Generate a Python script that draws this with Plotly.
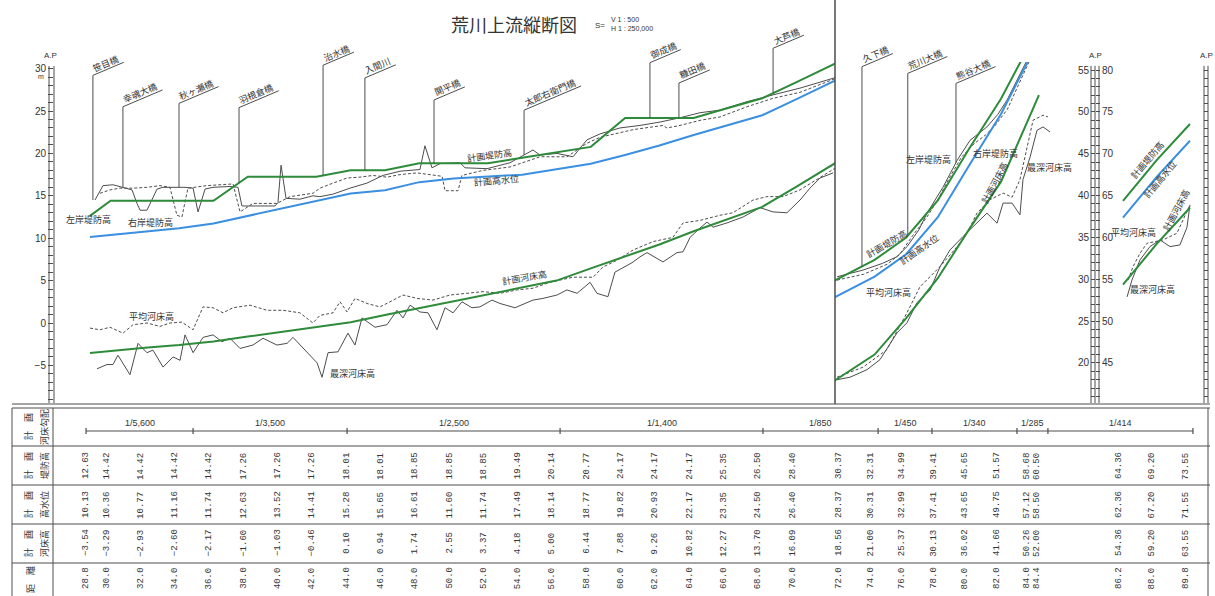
import math
import plotly.graph_objects as go

W, H = 1215, 596

# ---------------------------------------------------------------------------
# Table: distance from the river mouth (km) and design values
# ---------------------------------------------------------------------------
dist_km = [28.8, 30.0, 32.0, 34.0, 36.0, 38.0, 40.0, 42.0, 44.0, 46.0, 48.0,
           50.0, 52.0, 54.0, 56.0, 58.0, 60.0, 62.0, 64.0, 66.0, 68.0, 70.0,
           72.0, 74.0, 76.0, 78.0, 80.0, 82.0, 84.0, 84.4, 86.2, 88.0, 89.8]
levee_plan = [12.63, 14.42, 14.42, 14.42, 14.42, 17.26, 17.26, 17.26, 18.01, 18.01, 18.85,
              18.85, 18.85, 19.49, 20.14, 20.77, 24.17, 24.17, 24.17, 25.35, 26.50, 28.40,
              30.37, 32.31, 34.99, 39.41, 45.65, 51.57, 58.68, 60.50, 64.36, 69.20, 73.55]
hwl_table = [10.13, 10.36, 10.77, 11.16, 11.74, 12.63, 13.52, 14.41, 15.28, 15.65, 16.61,
             11.60, 11.74, 17.49, 18.14, 18.77, 19.82, 20.93, 22.17, 23.35, 24.50, 26.40,
             28.37, 30.31, 32.99, 37.41, 43.65, 49.75, 57.12, 58.50, 62.36, 67.20, 71.55]
bed_plan = [-3.54, -3.29, -2.93, -2.60, -2.17, -1.60, -1.03, -0.46, 0.10, 0.94, 1.74,
            2.55, 3.37, 4.18, 5.00, 6.44, 7.88, 9.26, 10.82, 12.27, 13.70, 16.09,
            18.56, 21.00, 25.37, 30.13, 36.02, 41.66, 50.26, 52.00, 54.36, 59.20, 63.55]
# design high-water level as drawn on the profile
hwl_line = [10.13, 10.36, 10.77, 11.16, 11.74, 12.63, 13.52, 14.41, 15.28, 15.65, 16.61,
            17.05, 17.30, 17.49, 18.14, 18.77, 19.82, 20.93, 22.17, 23.35, 24.50, 26.40,
            28.37, 30.31, 32.99, 37.41, 43.65, 49.75, 57.12, 58.50, 62.36, 67.20, 71.55]

grade_breaks_km = [28.57, 34.81, 43.79, 56.21, 68.04, 74.22, 77.63, 83.01, 84.97, 89.96]
grade_labels = ["1/5,600", "1/3,500", "1/2,500", "1/1,400", "1/850",
                "1/450", "1/340", "1/285", "1/414"]

# ---------------------------------------------------------------------------
# Surveyed profiles, lower reach (28.8 - 72 km)
# ---------------------------------------------------------------------------
lb_low_km = [29.09, 29.56, 30.14, 30.84, 31.25, 31.54, 31.72, 32.12, 32.42, 32.71,
             33.06, 34.34, 34.81, 35.10, 35.51, 35.97, 36.96, 37.43, 37.66, 39.59,
             39.76, 39.94, 40.23, 41.04, 41.80, 42.21, 42.97, 43.96, 44.95, 45.88,
             46.88, 48.04, 48.33, 48.74, 49.21, 50.37, 50.67, 51.95, 53.29, 54.63,
             55.04, 56.03, 56.96, 57.78, 58.54, 59.70, 60.87, 62.04, 63.20, 64.37,
             65.53, 67.11, 68.63, 70.20, 71.37, 72.36]
lb_low = [14.5, 16.2, 16.3, 15.9, 15.7, 14.1, 13.3, 13.3, 14.6, 15.8,
          16.0, 16.0, 15.9, 13.1, 15.8, 16.0, 16.1, 16.0, 13.8, 13.8,
          14.2, 18.6, 14.7, 14.6, 15.0, 14.9, 15.2, 15.9, 16.5, 17.4,
          17.9, 18.1, 20.9, 18.3, 18.8, 18.9, 18.3, 18.2, 18.9, 20.4,
          19.8, 20.0, 19.6, 21.6, 22.3, 23.0, 23.3, 23.7, 24.2, 24.8,
          25.1, 26.1, 26.9, 27.7, 28.4, 29.0]

rb_low_km = [29.38, 29.97, 30.55, 31.31, 32.12, 32.88, 33.46, 33.87, 34.16, 34.51,
             35.62, 36.79, 37.14, 37.55, 38.30, 39.70, 40.46, 41.80, 42.21, 42.97,
             43.79, 44.54, 45.30, 46.12, 46.88, 47.87, 49.33, 49.50, 50.26, 50.49,
             51.72, 53.29, 55.04, 56.61, 57.78, 58.54, 60.46, 62.21, 62.44, 63.20,
             64.37, 65.53, 67.11, 68.63, 70.20, 72.36]
rb_low = [15.3, 15.7, 15.9, 15.9, 16.0, 16.2, 16.0, 12.7, 12.5, 15.9,
          16.2, 16.3, 16.4, 13.1, 14.1, 14.1, 14.9, 15.3, 15.9, 16.5,
          17.1, 17.2, 17.4, 17.2, 17.5, 17.7, 17.3, 15.6, 15.6, 17.4,
          18.0, 18.4, 19.6, 19.6, 21.2, 21.9, 22.8, 23.3, 23.0, 23.3,
          23.9, 24.3, 25.5, 26.5, 27.2, 28.9]

avg_low_km = [28.80, 29.38, 29.97, 30.72, 31.31, 32.12, 32.88, 33.46, 34.16, 34.81,
              35.39, 35.97, 36.56, 37.14, 38.13, 39.12, 40.05, 41.04, 41.80, 42.21,
              42.97, 43.38, 43.79, 44.25, 44.95, 45.71, 46.29, 47.05, 47.87, 48.80,
              49.79, 50.78, 51.72, 52.71, 53.70, 54.63, 55.62, 56.96, 58.13, 58.71,
              59.53, 60.46, 61.63, 62.79, 63.38, 64.37, 65.53, 66.29, 67.46, 68.27,
              69.21, 70.20, 71.19, 72.36]
avg_low = [-0.6, -0.8, -0.5, -1.2, -0.2, 0.0, -0.4, 0.0, 0.1, -0.8,
           1.9, 1.8, 1.2, 1.8, 2.1, 1.5, 1.5, 1.2, 0.0, 0.9,
           1.2, 2.5, 1.3, 2.9, 2.3, 1.9, 2.5, 3.3, 2.9, 2.7,
           3.3, 3.5, 3.7, 3.5, 3.9, 4.1, 4.8, 5.4, 5.4, 6.6,
           7.4, 8.6, 9.6, 10.1, 11.8, 12.1, 12.7, 13.0, 14.5, 14.9,
           14.9, 15.7, 16.9, 18.4]

deep_low_km = [29.21, 29.79, 30.14, 30.43, 31.13, 31.60, 32.12, 32.47, 33.06, 33.64,
               34.05, 34.34, 34.81, 35.39, 35.97, 36.50, 36.96, 37.55, 38.30, 38.89,
               39.70, 40.29, 40.64, 41.45, 42.04, 42.33, 42.68, 43.26, 43.84, 44.25,
               44.66, 45.42, 46.12, 46.70, 47.05, 47.46, 48.04, 48.51, 49.03, 49.50,
               49.97, 50.49, 51.07, 51.54, 52.24, 52.71, 53.58, 54.63, 55.21, 56.03,
               56.61, 57.20, 57.96, 58.36, 59.00, 59.41, 59.88, 60.40, 60.87, 61.28,
               62.21, 63.03, 63.38, 63.79, 64.37, 64.78, 65.13, 65.94, 66.88, 67.87,
               68.63, 69.44, 70.20, 70.78, 71.37, 72.13]
deep_low = [-5.4, -4.9, -4.9, -3.8, -6.1, -2.4, -3.5, -3.2, -5.2, -4.0,
            -4.4, -1.4, -3.5, -1.7, -1.4, -2.2, -1.8, -3.0, -2.6, -1.8,
            -2.6, -2.4, -1.7, -3.5, -4.7, -6.4, -3.5, -3.4, -1.2, -2.6,
            0.6, -0.5, -0.2, 1.5, 0.6, 2.1, 1.3, 1.2, -0.8, 1.8,
            1.2, 2.5, 1.8, 1.9, 2.7, 2.3, 1.8, 2.7, 2.9, 3.3,
            3.9, 3.5, 4.8, 3.5, 3.1, 6.0, 6.5, 7.1, 7.8, 8.3,
            7.2, 8.3, 8.4, 10.1, 11.2, 11.9, 11.3, 11.8, 12.5, 13.6,
            13.1, 13.0, 14.5, 15.9, 17.1, 17.7]

# ---------------------------------------------------------------------------
# Surveyed profiles, middle reach (72 - 85 km)
# ---------------------------------------------------------------------------
lb_mid_km = [71.62, 73.27, 74.5, 75.42, 76.05, 76.8, 77.32, 78.33, 79.22, 80.04,
             81.11, 81.8, 82.38, 83.2, 83.6]
lb_mid = [30.3, 31.1, 31.9, 32.7, 33.9, 35.9, 37.9, 41.0, 44.2, 46.6,
          48.2, 49.7, 51.4, 54.6, 56.0]
rb_mid_km = [71.62, 73.3, 74.8, 75.6, 76.4, 77.3, 78.0, 78.7, 79.5, 80.3,
             81.0, 81.6, 82.4, 83.0, 83.5, 83.9]
rb_mid = [29.9, 30.6, 31.8, 33.0, 35.2, 37.4, 39.5, 42.0, 44.6, 46.2,
          47.2, 48.3, 50.3, 52.8, 55.0, 56.5]
avg_mid_km = [71.62, 73.27, 74.78, 76.05, 76.87, 78.14, 79.22, 79.85, 80.48, 81.30,
              82.13, 82.70, 83.20, 83.65, 84.03, 84.66, 84.97]
avg_mid = [18.3, 19.5, 21.6, 26.0, 29.1, 31.5, 33.9, 35.5, 37.9, 39.5,
           40.3, 39.8, 41.9, 45.8, 49.0, 49.6, 49.4]
deep_mid_km = [71.62, 72.44, 73.52, 74.34, 75.42, 76.05, 76.68, 77.51, 78.14, 78.77,
               79.59, 80.35, 81.11, 81.75, 82.13, 82.70, 83.20, 83.39, 83.84, 84.28,
               84.66, 85.10]
deep_mid = [18.0, 18.3, 19.2, 20.4, 23.6, 24.8, 27.2, 28.7, 31.5, 33.5,
            35.1, 36.5, 37.9, 36.7, 39.1, 39.1, 37.7, 41.9, 44.6, 47.8,
            48.2, 47.6]

# ---------------------------------------------------------------------------
# Surveyed profiles, upper reach (86 - 90 km)
# ---------------------------------------------------------------------------
avg_far_km = [86.47, 86.74, 87.11, 87.49, 88.35, 89.10, 89.80]
avg_far = [54.9, 56.5, 58.1, 59.3, 59.7, 60.5, 63.9]
deep_far_km = [86.42, 86.68, 87.11, 87.65, 88.19, 88.73, 89.26, 89.64, 89.80]
deep_far = [52.9, 54.9, 57.3, 58.9, 59.7, 58.9, 59.1, 61.2, 63.9]

# bridges and confluences along the river
bridge_low_names = ["笹目橋", "幸魂大橋", "秋ヶ瀬橋", "羽根倉橋", "治水橋", "入間川",
                    "開平橋", "太郎右衛門橋", "御成橋", "糠田橋", "大芦橋"]
bridge_low_km = [28.97, 30.72, 33.99, 37.49, 42.39, 44.83, 48.86, 54.11, 61.45, 63.14, 68.63]
bridge_mid_names = ["久下橋", "荒川大橋", "熊谷大橋"]
bridge_mid_km = [73.2, 76.1, 79.15]

# ---------------------------------------------------------------------------
# Styling and geometry
# ---------------------------------------------------------------------------
GREEN = "#2e8b3a"
BLUE = "#3b8fe0"
INK = "#4d4d4d"
TXT = "#333333"
JP = "Noto Sans CJK JP"
NUM = "Liberation Mono"
SANS = "Liberation Sans"
DASH = "3px,2px"

leader_top_low = [29.2, 25.5, 25.9, 25.4, 30.4, 28.9, 26.3, 25.1, 30.7, 28.3, 32.4]
leader_top_mid = [55.4, 54.6, 53.4]


def fx(px):
    return px / W


def fy(py):
    return 1 - py / H


# pixel <-> data scales of the three panels
def km_low(px): return 28.8 + (px - 90) / 17.15
def km_mid(px): return 72.0 + (px - 843) / 15.8
def km_far(px): return 86.2 + (px - 1123) / 18.6
def el_low(py): return (323 - py) / 8.48
def el_mid(py): return 55.0 - (py - 70) / 8.371
def el_far(py): return 80.0 - (py - 70) / 8.371


PX_OF = {"x": lambda k: 90 + (k - 28.8) * 17.15,
         "x2": lambda k: 843 + (k - 72.0) * 15.8,
         "x3": lambda k: 1123 + (k - 86.2) * 18.6}

LX, MX, FXd = (54, 835), (835, 1100), (1100, 1215)
LY, MY, FYd = (28, 403), (62, 403), (28, 403)

xr = {"x": [km_low(LX[0]), km_low(LX[1])],
      "x2": [km_mid(MX[0]), km_mid(MX[1])],
      "x3": [km_far(FXd[0]), km_far(FXd[1])]}
yr = {"y": [el_low(LY[1]), el_low(LY[0])],
      "y2": [el_mid(MY[1]), el_mid(MY[0])],
      "y3": [el_far(FYd[1]), el_far(FYd[0])]}

fig = go.Figure()


def add_line(x, y, xa, ya, color, width, dash="solid"):
    fig.add_trace(go.Scatter(x=x, y=y, xaxis=xa, yaxis=ya, mode="lines",
                             line=dict(color=color, width=width, dash=dash),
                             hoverinfo="skip", showlegend=False))


def pick(xs, ys, lo, hi):
    pts = [(a, b) for a, b in zip(xs, ys) if lo <= a <= hi]
    return [p[0] for p in pts], [p[1] for p in pts]


def interp(x, xs, ys):
    if x <= xs[0]:
        return ys[0]
    for i in range(1, len(xs)):
        if x <= xs[i]:
            t = (x - xs[i - 1]) / (xs[i] - xs[i - 1])
            return ys[i - 1] + t * (ys[i] - ys[i - 1])
    return ys[-1]


# surveyed lines
add_line(lb_low_km, lb_low, "x", "y", INK, 1)
add_line(rb_low_km, rb_low, "x", "y", INK, 1, DASH)
add_line(avg_low_km, avg_low, "x", "y", INK, 1, DASH)
add_line(deep_low_km, deep_low, "x", "y", INK, 1)
add_line(lb_mid_km, lb_mid, "x2", "y2", INK, 1)
add_line(rb_mid_km, rb_mid, "x2", "y2", INK, 1, DASH)
add_line(avg_mid_km, avg_mid, "x2", "y2", INK, 1, DASH)
add_line(deep_mid_km, deep_mid, "x2", "y2", INK, 1)
add_line(avg_far_km, avg_far, "x3", "y3", INK, 1, DASH)
add_line(deep_far_km, deep_far, "x3", "y3", INK, 1)

# design lines (water level, levee crown, river bed) per panel
spans = [("x", "y", 0, 74), ("x2", "y2", 70, 84.4), ("x3", "y3", 86, 90)]
for xa, ya, lo, hi in spans:
    add_line(*pick(dist_km, hwl_line, lo, hi), xa, ya, BLUE, 2)
    add_line(*pick(dist_km, levee_plan, lo, hi), xa, ya, GREEN, 2)
    add_line(*pick(dist_km, bed_plan, lo, hi), xa, ya, GREEN, 2)

# keeps the far-right ruler axis alive
fig.add_trace(go.Scatter(x=[None], y=[None], xaxis="x3", yaxis="y4", mode="lines",
                         hoverinfo="skip", showlegend=False))

shapes = []
annotations = []


def pline(x0, y0, x1, y1, width=1, color=INK):
    shapes.append(dict(type="line", xref="paper", yref="paper",
                       x0=fx(x0), y0=fy(y0), x1=fx(x1), y1=fy(y1),
                       line=dict(color=color, width=width)))


def note(text, x, y, xref="paper", yref="paper", size=9, angle=0, family=JP,
         xanchor="center", yanchor="middle", xshift=0, yshift=0, color=TXT):
    annotations.append(dict(text=text, x=x, y=y, xref=xref, yref=yref,
                            showarrow=False, textangle=angle,
                            xanchor=xanchor, yanchor=yanchor,
                            xshift=xshift, yshift=yshift,
                            font=dict(family=family, size=size, color=color)))


# ---- bridge leaders and slanted labels ----
ANG = math.radians(23)


def bridge(name, km, top, xa, ya, lb_km, lb_el):
    base = max(interp(km, dist_km, levee_plan), interp(km, lb_km, lb_el))
    shapes.append(dict(type="line", xref=xa, yref=ya, x0=km, x1=km, y0=base, y1=top,
                       line=dict(color=INK, width=1)))
    L = 9.5 * len(name) + 5
    rng = yr[ya]
    frac = (top - rng[0]) / (rng[1] - rng[0])
    shapes.append(dict(type="line", xref=xa, yref=ya + " domain",
                       xsizemode="pixel", xanchor=km, x0=0, x1=L * math.cos(ANG),
                       ysizemode="pixel", yanchor=frac, y0=0, y1=L * math.sin(ANG),
                       line=dict(color=INK, width=1)))
    note(name, km, top, xref=xa, yref=ya, size=9, angle=-23,
         xshift=L / 2 * math.cos(ANG) - 6 * math.sin(ANG),
         yshift=L / 2 * math.sin(ANG) + 6 * math.cos(ANG))


for n, k, t in zip(bridge_low_names, bridge_low_km, leader_top_low):
    bridge(n, k, t, "x", "y", lb_low_km, lb_low)
for n, k, t in zip(bridge_mid_names, bridge_mid_km, leader_top_mid):
    bridge(n, k, t, "x2", "y2", lb_mid_km, lb_mid)

# ---- line labels ----
line_labels = [
    ("左岸堤防高", "x", "y", 28.74, 12.15, 0),
    ("右岸堤防高", "x", "y", 32.30, 11.91, 0),
    ("計画堤防高", "x", "y", 52.07, 19.81, -8),
    ("計画高水位", "x", "y", 52.53, 16.75, -5),
    ("計画河床高", "x", "y", 54.16, 5.42, -10),
    ("平均河床高", "x", "y", 32.36, 0.71, 0),
    ("最深河床高", "x", "y", 44.08, -5.9, 0),
    ("左岸堤防高", "x2", "y2", 77.38, 44.25, 0),
    ("右岸堤防高", "x2", "y2", 81.62, 45.08, 0),
    ("計画堤防高", "x2", "y2", 74.78, 34.33, -30),
    ("計画高水位", "x2", "y2", 76.81, 33.5, -35),
    ("計画河床高", "x2", "y2", 81.56, 41.5, -62),
    ("最深河床高", "x2", "y2", 85.1, 43.4, 0),
    ("平均河床高", "x2", "y2", 74.85, 28.48, 0),
    ("計画堤防高", "x3", "y3", 87.54, 69.25, -50),
    ("計画高水位", "x3", "y3", 88.19, 66.86, -50),
    ("計画河床高", "x3", "y3", 89.1, 63.28, -62),
    ("平均河床高", "x3", "y3", 86.74, 60.53, 0),
    ("最深河床高", "x3", "y3", 87.81, 53.72, 0),
]
for text, xa, ya, x, y, ang in line_labels:
    note(text, x, y, xref=xa, yref=ya, size=9, angle=ang)

# ---- title ----
note("荒川上流縦断図", fx(514), fy(24), size=18)
note("S=", fx(600), fy(26), size=8, family=SANS)
note("V 1 : 500", fx(609), fy(20), size=7, family=SANS, xanchor="left")
note("H 1 : 250,000", fx(609), fy(29), size=7, family=SANS, xanchor="left")

# ---- rulers ----
note("A.P", fx(50), fy(55), size=8, family=SANS)
note("m", fx(41), fy(76), size=7, family=SANS)
note("A.P", fx(1095), fy(56), size=8, family=SANS)
note("A.P", fx(1206), fy(56), size=8, family=SANS)

for px in (49, 54):
    shapes.append(dict(type="line", xref="paper", yref="y", x0=fx(px), x1=fx(px),
                       y0=yr["y"][0], y1=30.3, line=dict(color=INK, width=1)))
for px in (1091, 1095, 1099):
    shapes.append(dict(type="line", xref="paper", yref="y2", x0=fx(px), x1=fx(px),
                       y0=yr["y2"][0], y1=55.5, line=dict(color=INK, width=1)))
for px in (1204, 1208):
    shapes.append(dict(type="line", xref="paper", yref="y3", x0=fx(px), x1=fx(px),
                       y0=yr["y3"][0], y1=80.5, line=dict(color=INK, width=1)))

# panel divider
pline(835, 0, 835, 404, width=1.5)

# ---- table frame ----
pline(12, 404, 1210, 404, width=1.2)
pline(12, 408, 1210, 408, width=1.2)
for py in (446, 485, 524, 563):
    pline(12, py, 1210, py)
pline(12, 408, 12, 596)
pline(53, 408, 53, 596)
pline(1208, 408, 1208, 596)

ROW_Y = {"grade": 423, "levee": 466, "hwl": 505, "bed": 543, "dist": 578}
headers = [("計　画", "河床勾配", 427), ("計　画", "堤防高", 466),
           ("計　画", "高水位", 505), ("計　画", "河床高", 544)]
for a, b, y in headers:
    note(a, fx(28), fy(y), size=9, angle=-90)
    note(b, fx(44), fy(y), size=9, angle=-90)
note("距　離", fx(30), fy(580), size=9, angle=-90)


def table_ref(km):
    """Panel whose horizontal scale carries a table column at this distance."""
    if km <= 71:
        return "x"
    if km <= 85.5:
        return "x2"
    return "x3"


def ref_at_px(px):
    if px < 835:
        return "x", km_low(px)
    if px < 1100:
        return "x2", km_mid(px)
    return "x3", km_far(px)


def fmt(v):
    return f"{v:.2f}".replace("-", "−")


for i, km in enumerate(dist_km):
    ref = table_ref(km)
    sh = -4 + (-2 if km == 84.0 else 2 if km == 84.4 else 0)
    for row, vals in (("levee", levee_plan), ("hwl", hwl_table), ("bed", bed_plan)):
        note(fmt(vals[i]), km, fy(ROW_Y[row]), xref=ref, size=9, angle=-90,
             family=NUM, xshift=sh)
    note(f"{km:.1f}", km, fy(ROW_Y["dist"]), xref=ref, size=9, angle=-90,
         family=NUM, xshift=sh)

# gradient row: continuous rule, break ticks and slope labels
GY = 431
shapes.append(dict(type="line", xref="x", yref="paper", x0=grade_breaks_km[0], x1=xr["x"][1],
                   y0=fy(GY), y1=fy(GY), line=dict(color=INK, width=1)))
shapes.append(dict(type="line", xref="x2", yref="paper", x0=xr["x2"][0], x1=xr["x2"][1],
                   y0=fy(GY), y1=fy(GY), line=dict(color=INK, width=1)))
shapes.append(dict(type="line", xref="x3", yref="paper", x0=xr["x3"][0], x1=grade_breaks_km[-1],
                   y0=fy(GY), y1=fy(GY), line=dict(color=INK, width=1)))
for km in grade_breaks_km:
    shapes.append(dict(type="line", xref=table_ref(km), yref="paper", x0=km, x1=km,
                       y0=fy(GY - 3), y1=fy(GY + 3), line=dict(color=INK, width=1.2)))
for lab, a, b in zip(grade_labels, grade_breaks_km[:-1], grade_breaks_km[1:]):
    pm = (PX_OF[table_ref(a)](a) + PX_OF[table_ref(b)](b)) / 2
    ref, kmm = ref_at_px(pm)
    note(lab, kmm, fy(ROW_Y["grade"]), xref=ref, size=9, family=SANS)

# ---- axes ----
ruler = dict(showgrid=False, zeroline=False, showline=False, ticks="outside",
             tickwidth=1, tickcolor=INK, fixedrange=True,
             tickfont=dict(family=SANS, size=10, color=TXT))


def tick_set(lo, hi):
    vals = list(range(lo, hi + 1))
    return vals, [(str(v).replace("-", "−") if v % 5 == 0 else "") for v in vals]


tv1, tt1 = tick_set(-9, 30)
tv2, tt2 = tick_set(16, 55)
tv3, tt3 = tick_set(41, 80)

fig.update_layout(
    width=W, height=H, margin=dict(l=0, r=0, t=0, b=0), autosize=False,
    paper_bgcolor="white", plot_bgcolor="white", showlegend=False,
    xaxis=dict(domain=[fx(LX[0]), fx(LX[1])], range=xr["x"], visible=False, anchor="y", fixedrange=True),
    xaxis2=dict(domain=[fx(MX[0]), fx(MX[1])], range=xr["x2"], visible=False, anchor="y2", fixedrange=True),
    xaxis3=dict(domain=[fx(FXd[0]), fx(FXd[1])], range=xr["x3"], visible=False, anchor="y3", fixedrange=True),
    yaxis=dict(domain=[fy(LY[1]), fy(LY[0])], range=yr["y"], anchor="x", side="left",
               ticklen=5, tickvals=tv1, ticktext=tt1, **ruler),
    yaxis2=dict(domain=[fy(MY[1]), fy(MY[0])], range=yr["y2"], anchor="free", position=fx(1095),
                side="left", ticklen=4, tickvals=tv2, ticktext=tt2, **ruler),
    yaxis3=dict(domain=[fy(FYd[1]), fy(FYd[0])], range=yr["y3"], anchor="free", position=fx(1095),
                side="right", ticklen=4, tickvals=tv3, ticktext=tt3, **ruler),
    yaxis4=dict(range=yr["y3"], overlaying="y3", anchor="free", position=fx(1208), side="left",
                ticklen=4, tickvals=tv3, showticklabels=False, **ruler),
    shapes=shapes,
    annotations=annotations,
)

fig.write_html("out.html")
